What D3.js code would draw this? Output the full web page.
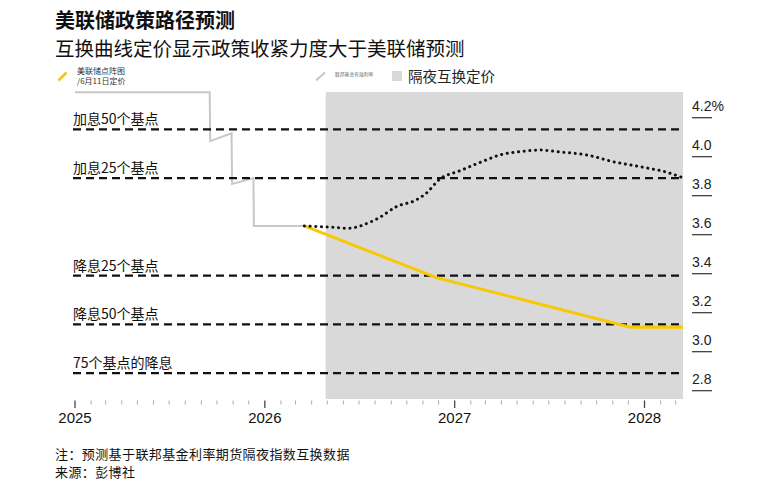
<!DOCTYPE html>
<html>
<head>
<meta charset="utf-8">
<script src="https://cdn.jsdelivr.net/npm/d3@7.9.0/dist/d3.min.js"></script>
<style>
  html, body { margin: 0; padding: 0; background: #fff; }
  svg { display: block; font-family: "Noto Sans CJK SC", "Noto Sans", sans-serif; }
  .num { font-family: "Liberation Sans", Arial, sans-serif; }
</style>
</head>
<body>
<svg id="chart" width="760" height="485"></svg>
<script>
// effective fed funds rate (gray step line)
const effDates = ['2025-01-01', '2025-09-17', '2025-09-18', '2025-10-29', '2025-10-30',
  '2025-12-10', '2025-12-11', '2026-03-18'];
const effValues = [4.33, 4.33, 4.08, 4.12, 3.86, 3.89, 3.645, 3.645];

// Fed dot plot median, priced 11 June (yellow)
const dotDates = ['2026-03-18', '2026-11-27', '2027-12-05', '2028-03-15'];
const dotValues = [3.645, 3.38, 3.125, 3.125];

// OIS implied path (black dotted)
const oisDates = ['2026-03-18', '2026-05-12', '2026-06-10', '2026-07-22', '2026-08-10',
  '2026-09-11', '2026-10-19', '2026-11-07', '2026-12-03', '2027-01-11', '2027-02-22',
  '2027-03-29', '2027-05-07', '2027-06-14', '2027-07-23', '2027-09-12', '2027-11-02',
  '2027-12-23', '2028-02-13', '2028-03-13'];
const oisValues = [3.645, 3.638, 3.633, 3.664, 3.689, 3.744, 3.778, 3.812, 3.884, 3.928,
  3.974, 4.009, 4.026, 4.034, 4.024, 4.009, 3.974, 3.949, 3.92, 3.894];

// scenario reference lines
const scenarioLabels = ['加息50个基点', '加息25个基点', '降息25个基点', '降息50个基点', '75个基点的降息'];
const scenarioLevels = [4.14, 3.89, 3.39, 3.14, 2.89];

const yTicks = [2.8, 3.0, 3.2, 3.4, 3.6, 3.8, 4.0, 4.2];
const yearTicks = ['2025', '2026', '2027', '2028'];
const shadeStart = '2026-04-28';

const parse = d3.timeParse('%Y-%m-%d');
const svg = d3.select('#chart');

const x = d3.scaleTime()
  .domain([parse('2025-01-01'), parse('2028-03-15')])
  .range([75, 683]);
const y = d3.scaleLinear().domain([2.8, 4.2]).range([390.7, 117.7]);

// titles
svg.append('text').attr('x', 55).attr('y', 28)
  .attr('font-size', 20).attr('font-weight', 700).attr('fill', '#111')
  .text('美联储政策路径预测');
svg.append('text').attr('x', 55).attr('y', 56)
  .attr('font-size', 19.5).attr('fill', '#111')
  .text('互换曲线定价显示政策收紧力度大于美联储预测');

// legend
const lg = svg.append('g');
lg.append('line').attr('x1', 58.5).attr('y1', 80.5).attr('x2', 66.5).attr('y2', 72.5)
  .attr('stroke', '#f5c800').attr('stroke-width', 2.5);
lg.append('text').attr('x', 77).attr('y', 74).attr('font-size', 8).attr('fill', '#333').text('美联储点阵图');
lg.append('text').attr('x', 77).attr('y', 84).attr('font-size', 8).attr('fill', '#333').text('/6月11日定价');
lg.append('line').attr('x1', 316).attr('y1', 80.5).attr('x2', 325).attr('y2', 72.5)
  .attr('stroke', '#c6c6c6').attr('stroke-width', 2);
lg.append('text').attr('x', 335).attr('y', 76).attr('font-size', 4.8).attr('fill', '#666').text('联邦基金有效利率');
lg.append('rect').attr('x', 392).attr('y', 71).attr('width', 10).attr('height', 10).attr('fill', '#d9d9d9');
lg.append('text').attr('x', 408).attr('y', 82).attr('font-size', 14.5).attr('fill', '#222').text('隔夜互换定价');

// shaded OIS region
svg.append('rect')
  .attr('x', x(parse(shadeStart)))
  .attr('y', 92)
  .attr('width', x.range()[1] - x(parse(shadeStart)))
  .attr('height', 399 - 92)
  .attr('fill', '#d9d9d9');

// effective rate
const line = d3.line().x(d => x(d[0])).y(d => y(d[1]));
svg.append('path')
  .datum(effDates.map((d, i) => [parse(d), effValues[i]]))
  .attr('d', line)
  .attr('fill', 'none').attr('stroke', '#c8c8c8').attr('stroke-width', 2);

// scenario lines + labels
scenarioLevels.forEach((v, i) => {
  svg.append('line')
    .attr('x1', 73).attr('x2', 683)
    .attr('y1', y(v)).attr('y2', y(v))
    .attr('stroke', '#111').attr('stroke-width', 2.2)
    .attr('stroke-dasharray', '8,5');
  svg.append('text')
    .attr('x', 73).attr('y', y(v) - 5)
    .attr('font-size', 14).attr('fill', '#111')
    .text(scenarioLabels[i]);
});

// dot plot path
svg.append('path')
  .datum(dotDates.map((d, i) => [parse(d), dotValues[i]]))
  .attr('d', line)
  .attr('fill', 'none').attr('stroke', '#f7c900').attr('stroke-width', 3);

// OIS path
svg.append('path')
  .datum(oisDates.map((d, i) => [parse(d), oisValues[i]]))
  .attr('d', line.curve(d3.curveMonotoneX))
  .attr('fill', 'none').attr('stroke', '#111').attr('stroke-width', 3)
  .attr('stroke-linecap', 'round').attr('stroke-dasharray', '0.1,5.6');

// right axis
const ya = svg.append('g').attr('class', 'num');
yTicks.forEach((v, i) => {
  ya.append('line').attr('x1', 692).attr('x2', 712)
    .attr('y1', y(v)).attr('y2', y(v))
    .attr('stroke', '#333').attr('stroke-width', 1.2);
  ya.append('text').attr('x', 692).attr('y', y(v) - 7)
    .attr('font-size', 14).attr('fill', '#222')
    .text(d3.format('.1f')(v) + (i === yTicks.length - 1 ? '%' : ''));
});

// bottom axis
const xa = svg.append('g').attr('class', 'num');
const months = d3.timeMonth.range(x.domain()[0], x.domain()[1]);
months.forEach(m => {
  const major = m.getMonth() === 0;
  xa.append('line')
    .attr('x1', x(m)).attr('x2', x(m))
    .attr('y1', 400.5).attr('y2', major ? 408 : 404.5)
    .attr('stroke', major ? '#444' : '#aaa').attr('stroke-width', major ? 1.3 : 1);
});
yearTicks.forEach(t => {
  xa.append('text').attr('x', x(parse(t + '-01-01'))).attr('y', 422.7)
    .attr('text-anchor', 'middle').attr('font-size', 15).attr('fill', '#111')
    .text(t);
});

// footer
svg.append('text').attr('x', 55).attr('y', 459).attr('font-size', 13).attr('letter-spacing', 0.4)
  .attr('fill', '#111').text('注：预测基于联邦基金利率期货隔夜指数互换数据');
svg.append('text').attr('x', 55).attr('y', 477).attr('font-size', 13).attr('letter-spacing', 0.4)
  .attr('fill', '#111').text('来源：彭博社');
</script>
</body>
</html>
